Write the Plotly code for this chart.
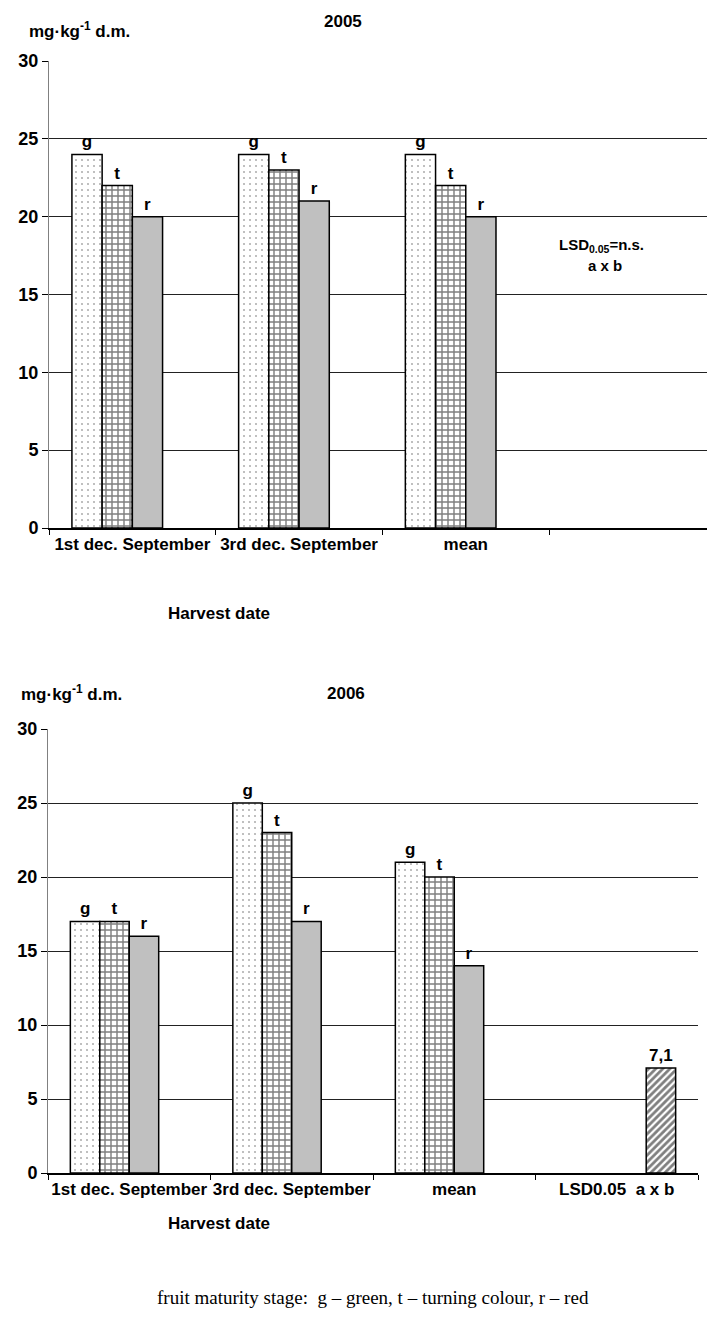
import plotly.graph_objects as go

# ---- data -------------------------------------------------------------
harvest_dates = ["1st dec. September", "3rd dec. September", "mean"]
stage_labels = ["g", "t", "r"]

green_2005 = [24, 24, 24]
turning_2005 = [22, 23, 22]
red_2005 = [20, 21, 20]

green_2006 = [17, 25, 21]
turning_2006 = [17, 23, 20]
red_2006 = [16, 17, 14]

lsd_label_2006 = "LSD0.05\u00a0\u00a0a x b"
lsd_2006 = [7.1]

y_ticks = [0, 5, 10, 15, 20, 25, 30]

# ---- page geometry helpers (pixels -> paper fractions) ----------------
W, H = 707, 1324


def fx(x):
    return x / W


def fy(y):
    return 1 - y / H


FONT = "Liberation Sans"
BOLD = dict(family=FONT, color="black", weight="bold")

styles = [
    dict(color="white",
         pattern=dict(shape=".", fgcolor="#606060", bgcolor="white", size=6, solidity=0.1)),
    dict(color="white",
         pattern=dict(shape="+", fgcolor="black", bgcolor="white", size=6, solidity=0.42)),
    dict(color="#c0c0c0"),
]
lsd_style = dict(color="white",
                 pattern=dict(shape="/", fgcolor="black", bgcolor="white", size=5, solidity=0.55))

fig = go.Figure()


def add_year(series, cats, lsd_x, lsd_y, xa, ya):
    for label, vals, st in zip(stage_labels, series, styles):
        fig.add_trace(go.Bar(
            x=cats, y=vals,
            text=[label] * len(vals), textposition="outside",
            textfont=dict(size=17, **BOLD), constraintext="none", cliponaxis=False,
            marker=dict(line=dict(color="black", width=1.5), **st),
            xaxis=xa, yaxis=ya, showlegend=False, hoverinfo="skip",
        ))
    bar = dict(
        x=lsd_x, y=lsd_y,
        marker=dict(line=dict(color="black", width=1.5), **lsd_style),
        xaxis=xa, yaxis=ya, showlegend=False, hoverinfo="skip",
    )
    values = [v for v in lsd_y if v is not None]
    if values:
        bar.update(
            text=[f"{v:.1f}".replace(".", ",") for v in values],
            textposition="outside", textfont=dict(size=17, **BOLD),
            constraintext="none", cliponaxis=False,
        )
    fig.add_trace(go.Bar(**bar))


cats_2005 = harvest_dates + ["\u00a0"]
cats_2006 = harvest_dates + [lsd_label_2006]

add_year([green_2005, turning_2005, red_2005], cats_2005, ["\u00a0"], [None], "x", "y")
add_year([green_2006, turning_2006, red_2006], cats_2006, [lsd_label_2006], lsd_2006, "x2", "y2")

xaxis_common = dict(
    type="category", tickson="boundaries", ticks="outside", ticklen=5,
    tickcolor="black", showline=True, linecolor="black", linewidth=1.5,
    showgrid=False, tickfont=dict(size=17, **BOLD), tickangle=0,
    automargin=False, fixedrange=True,
)
yaxis_common = dict(
    range=[0, 30], tickvals=y_ticks, ticks="outside", ticklen=6,
    tickcolor="black", showline=True, linecolor="#808080", linewidth=1,
    showgrid=True, gridcolor="#222222", gridwidth=1, zeroline=False,
    tickfont=dict(size=18, **BOLD), automargin=False, fixedrange=True,
)

fig.update_layout(
    width=W, height=H, margin=dict(l=0, r=0, t=0, b=0, autoexpand=False),
    paper_bgcolor="white", plot_bgcolor="white",
    barmode="group", bargap=0.275, bargroupgap=0,
    xaxis=dict(domain=[fx(49), 1], anchor="y", categoryarray=cats_2005,
               categoryorder="array", range=[-0.5, 3.447], **xaxis_common),
    yaxis=dict(domain=[fy(528), fy(61)], anchor="x", **yaxis_common),
    xaxis2=dict(domain=[fx(48), fx(698)], anchor="y2", categoryarray=cats_2006,
                categoryorder="array", range=[-0.5, 3.5], **xaxis_common),
    yaxis2=dict(domain=[fy(1173), fy(729)], anchor="x2", **yaxis_common),
    # thin grey frame line along the top of each plot area
    xaxis3=dict(overlaying="x", anchor="y", side="top", showline=True,
                linecolor="#808080", linewidth=1.5, showticklabels=False,
                ticks="", showgrid=False, zeroline=False, range=[0, 1],
                automargin=False),
    xaxis4=dict(overlaying="x2", anchor="y2", side="top", showline=True,
                linecolor="#808080", linewidth=1.5, showticklabels=False,
                ticks="", showgrid=False, zeroline=False, range=[0, 1],
                automargin=False),
)

ann = []


def text(x, y, s, size=15, xanchor="center", family=FONT, bold=True):
    ann.append(dict(
        x=fx(x), y=fy(y), xref="paper", yref="paper", text=s, showarrow=False,
        xanchor=xanchor, yanchor="middle",
        font=dict(family=family, size=size, color="black",
                  weight="bold" if bold else "normal"),
    ))


unit = "mg\u00b7kg<sup>-1</sup> d.m."
text(27, 30, unit, 17, xanchor="left")
text(343, 21, "2005", 17)
text(601, 246, "LSD<sub>0.05</sub>=n.s.", 15)
text(605, 266, "a x b", 15)
text(219, 613, "Harvest date", 17)

text(19, 693, unit, 17, xanchor="left")
text(346, 693, "2006", 17)
text(219, 1223, "Harvest date", 17)

text(373, 1297, "fruit maturity stage:\u00a0\u00a0g \u2013 green, t \u2013 turning colour, r \u2013 red",
     19, family="Liberation Serif", bold=False)

fig.update_layout(annotations=ann)

fig.write_html("out.html")
